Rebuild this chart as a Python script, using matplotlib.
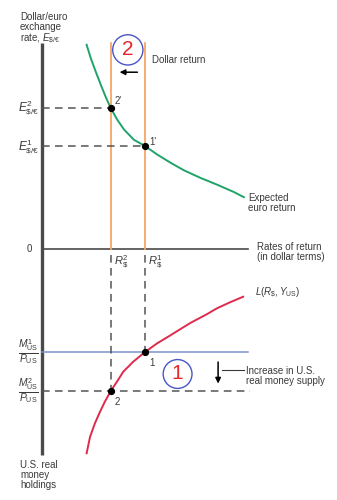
import matplotlib
matplotlib.use("Agg")
import matplotlib.pyplot as plt
from matplotlib.patches import Circle, FancyArrowPatch

plt.rcParams['font.family'] = ['Liberation Sans', 'DejaVu Sans']
plt.rcParams['mathtext.fontset'] = 'custom'
plt.rcParams['mathtext.rm'] = 'Liberation Sans'
plt.rcParams['mathtext.it'] = 'Liberation Sans:italic'
plt.rcParams['mathtext.bf'] = 'Liberation Sans:bold'

# rates of return (dollar terms) at the two equilibria
R1, R2 = 3.0, 2.0
# exchange rates (upper panel) and real money supply (lower panel, drawn downward)
E1, E2 = 3.0, 4.11
M1, M2 = -3.0, -4.14

# expected euro return curve
euro_x = [1.30, 1.42, 1.56, 1.71, 1.86, 2.0, 2.19, 2.39, 2.68, 3.0,
          3.36, 3.75, 4.14, 4.62, 5.11, 5.59, 5.88]
euro_y = [5.95, 5.56, 5.18, 4.79, 4.42, 4.11, 3.77, 3.48, 3.18, 3.0,
          2.75, 2.51, 2.29, 2.07, 1.87, 1.66, 1.51]

# money demand curve L(R, Y)
L_x = [1.30, 1.40, 1.54, 1.69, 1.83, 2.0, 2.18, 2.37, 2.66, 3.0,
       3.35, 3.73, 4.31, 4.80, 5.09, 5.48, 5.86]
L_y = [-5.95, -5.47, -5.08, -4.74, -4.45, -4.14, -3.87, -3.57, -3.28, -3.0,
       -2.75, -2.52, -2.16, -1.90, -1.73, -1.55, -1.39]

ax_top, ax_bot, ax_right = 6.0, -6.0, 6.0

fig = plt.figure(figsize=(3.37, 5.0), dpi=100)
ax = fig.add_axes([0, 0, 1, 1])
ax.set_xlim(-1.223, 8.593)
ax.set_ylim(-7.31, 7.253)
ax.axis('off')

axis_col = '#4a4a4a'
dash_col = '#555555'
dash = (0, (5, 3.5))

# axes
ax.plot([0, 0], [ax_bot, ax_top], color=axis_col, lw=2.4, solid_capstyle='butt')
ax.plot([0, ax_right], [0, 0], color=axis_col, lw=1.2)

# dollar return lines
for r in (R1, R2):
    ax.plot([r, r], [0, ax_top], color='#f5a766', lw=1.3)

# real money supply
ax.plot([0, ax_right], [M1, M1], color='#7f91cf', lw=1.1)
ax.plot([0, ax_right + 0.05], [M2, M2], color=dash_col, lw=1.1, ls=dash)

# dashed guides
ax.plot([0, R2], [E2, E2], color=dash_col, lw=1.1, ls=dash)
ax.plot([0, R1], [E1, E1], color=dash_col, lw=1.1, ls=dash)
ax.plot([R2, R2], [-0.17, M2], color=dash_col, lw=1.1, ls=dash)
ax.plot([R1, R1], [-0.17, M1], color=dash_col, lw=1.1, ls=dash)

# curves
ax.plot(euro_x, euro_y, color='#1fa36b', lw=1.4, solid_joinstyle='round')
ax.plot(L_x, L_y, color='#e02a4c', lw=1.4, solid_joinstyle='round')

# equilibrium points
ax.plot([R2, R1, R2, R1], [E2, E1, M2, M1], 'o', color='black', ms=4.2)

fs = 7
tc = '#3a3a3a'
ax.text(-0.64, 6.9, 'Dollar/euro\nexchange\nrate, $E_{\\$/€}$', fontsize=fs, color=tc,
        va='top', ha='left', linespacing=1.0)
ax.text(-0.3, 0, '0', fontsize=fs, color=tc, va='center', ha='right')
ax.text(-0.08, E2, '$E^2_{\\$/€}$', fontsize=8.5, color=tc, va='center', ha='right')
ax.text(-0.08, E1, '$E^1_{\\$/€}$', fontsize=8.5, color=tc, va='center', ha='right')
ax.text(R2 + 0.1, E2 + 0.2, "2'", fontsize=fs, color=tc, va='center')
ax.text(R1 + 0.13, E1 + 0.12, "1'", fontsize=fs, color=tc, va='center')
ax.text(3.2, 5.5, 'Dollar return', fontsize=fs, color=tc, va='center')
ax.text(6.0, 1.63, 'Expected\neuro return', fontsize=fs, color=tc, va='top', linespacing=1.0)
ax.text(6.25, -0.1, 'Rates of return\n(in dollar terms)', fontsize=fs, color=tc,
        va='center', linespacing=1.0)
ax.text(R2 + 0.1, -0.4, '$R^2_{\\$}$', fontsize=8, color=tc, va='center')
ax.text(R1 + 0.1, -0.4, '$R^1_{\\$}$', fontsize=8, color=tc, va='center')
ax.text(6.2, -1.28, '$L(R_{\\$}, Y_{\\rm US})$', fontsize=fs, color=tc, va='center')
ax.text(R1 + 0.13, M1 - 0.33, '1', fontsize=fs, color=tc, va='center')
ax.text(R2 + 0.1, M2 - 0.33, '2', fontsize=fs, color=tc, va='center')
ax.text(-0.1, M1, '$\\frac{M^1_{\\rm US}}{P_{\\rm US}}$', fontsize=10.5, color=tc,
        va='center', ha='right')
ax.text(-0.1, M2, '$\\frac{M^2_{\\rm US}}{P_{\\rm US}}$', fontsize=10.5, color=tc,
        va='center', ha='right')
ax.text(-0.64, -6.15, 'U.S. real\nmoney\nholdings', fontsize=fs, color=tc, va='top',
        linespacing=1.0)
ax.text(5.94, -3.41, 'Increase in U.S.\nreal money supply', fontsize=fs, color=tc,
        va='top', linespacing=1.0)

# leader line and arrows
ax.plot([5.24, 5.88], [-3.52, -3.52], color=tc, lw=0.8)
ax.add_patch(FancyArrowPatch((5.13, -3.21), (5.13, -4.0), arrowstyle='-|>',
                             mutation_scale=8, color='black', lw=1.1))
ax.add_patch(FancyArrowPatch((2.86, 5.15), (2.18, 5.15), arrowstyle='-|>',
                             mutation_scale=8, color='black', lw=1.1))

# step markers
ax.add_patch(Circle((2.5, 5.8), 0.44, fill=False, ec='#4a55c8', lw=1.0))
ax.text(2.5, 5.8, '2', fontsize=15, color='#e8262b', ha='center', va='center')
ax.add_patch(Circle((3.95, -3.64), 0.42, fill=False, ec='#4a55c8', lw=1.0))
ax.text(3.95, -3.64, '1', fontsize=15, color='#e8262b', ha='center', va='center')

fig.savefig('out.png', dpi=100)
